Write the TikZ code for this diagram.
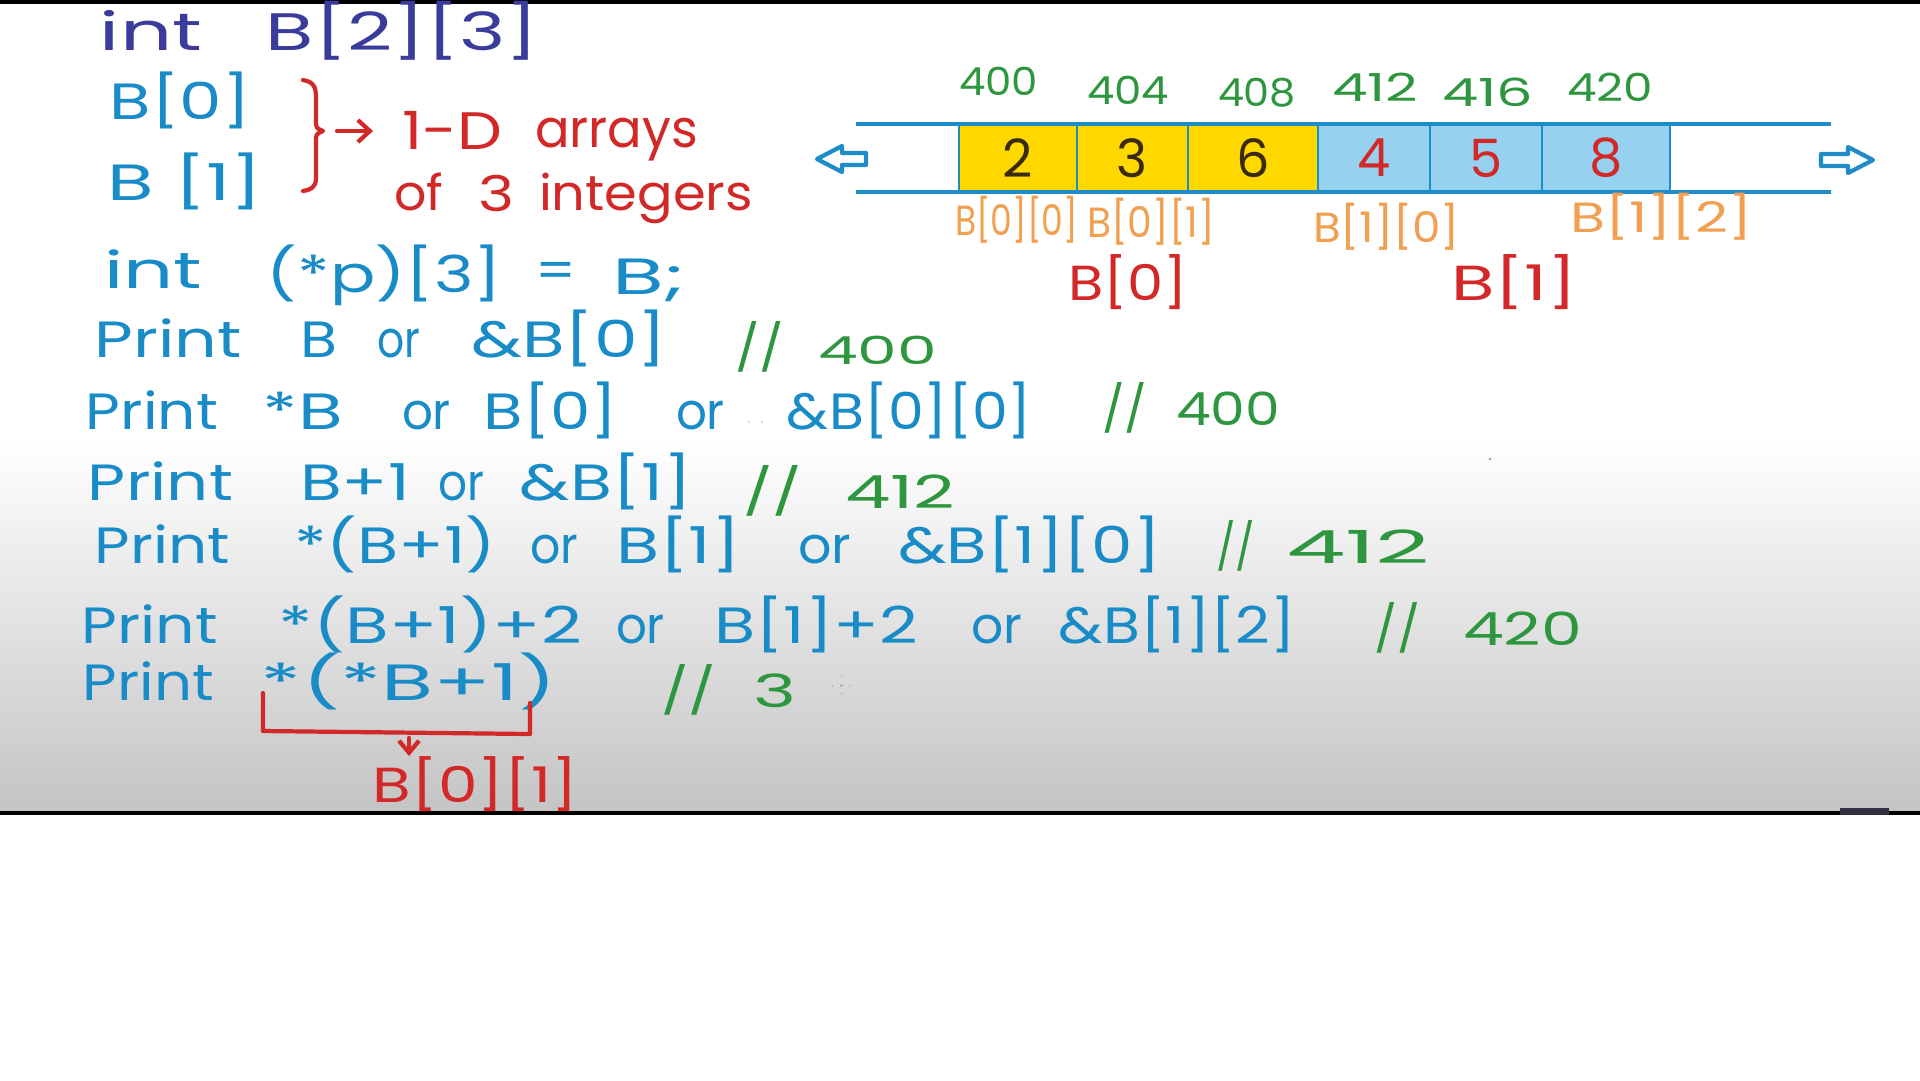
\documentclass[tikz,border=0pt]{standalone}
\usepackage{fontspec}
\setmainfont{Poppins}
\usepackage{graphicx}
\usetikzlibrary{arrows.meta}
\definecolor{cblue}{HTML}{198CC8}
\definecolor{cdark}{HTML}{3A3C9C}
\definecolor{cred}{HTML}{D22828}
\definecolor{cgreen}{HTML}{2E963E}
\definecolor{corange}{HTML}{F0A050}
\definecolor{cyel}{HTML}{FFD800}
\definecolor{clblue}{HTML}{96D2F0}
\definecolor{cline}{HTML}{1E8CC8}
\definecolor{cdigit}{HTML}{3A2A10}
\definecolor{cgray}{HTML}{C4C4C4}
\definecolor{cbar}{HTML}{303040}
\newcommand\W[2]{\resizebox{\dimexpr 0.1mm*(#1)\relax}{\height}{#2}}
\newcommand\seg[6]{\node[#1] (#2) at ({(#3+#4)/2},#5) {\W{#4-#3}{#6}};}
\tikzset{
  hw/.style={inner sep=0pt, outer sep=0pt, anchor=base},
  fs/.style={font=\fontsize{#1}{#1}\selectfont},
  hd/.style={hw, text=cdark, fs=15},
  bl/.style={hw, text=cblue, fs=14.5},
  rd/.style={hw, text=cred, fs=15},
  rds/.style={hw, text=cred, fs=14},
  gr/.style={hw, text=cgreen, fs=13},
  grs/.style={hw, text=cgreen, fs=11},
  orl/.style={hw, text=corange, fs=12},
  rdl/.style={hw, text=cred, fs=14},
  cell/.style={draw=cline, line width=0.8pt, minimum height=6.8mm, inner sep=0pt, font=\fontsize{15}{15}\selectfont},
  pen/.style={line width=1.2pt, line cap=round, line join=round},
  hollow/.style={draw=cline, fill=white, line width=1.2pt, line join=round},
}
\begin{document}
\begin{tikzpicture}[x=0.1mm,y=-0.1mm]
\useasboundingbox (0,0) rectangle (1920,1080);
% background
\fill[white] (0,0) rectangle (1920,1080);
\shade[top color=white, bottom color=cgray] (0,440) rectangle (1920,812);
\fill[black] (0,0) rectangle (1920,4);
\fill[black] (0,811) rectangle (1920,815);
\fill[cbar] (1840,808) rectangle (1889,815);

% header
\seg{hd}{h1}{100}{202}{50}{int}
\seg{hd}{h2}{266}{539}{50}{B[2][3]}

% B[0], B[1] and brace
\seg{bl}{b0}{110}{251}{119}{B[0]}
\seg{bl}{b1}{108}{263}{200}{B [1]}
\coordinate (bt) at (323,131);
\draw[cred, pen] (303,80) .. controls (316,82) and (316,90) .. (316,100) -- (316,120)
  .. controls (316,128) .. (bt) .. controls (316,134) .. (316,142) -- (316,178)
  .. controls (316,188) and (310,190) .. (303,191);
\seg{rd}{oneD}{402}{502}{149}{1-D}
\seg{rd}{arr}{535}{698}{147}{arrays}
\seg{rds}{of}{394}{443}{210}{of}
\seg{rds}{three}{478}{514}{211}{3}
\seg{rds}{integ}{539}{753}{210}{integers}
\draw[cred, pen, -{Straight Barb[length=1.2mm,width=2.2mm]}, shorten <=1.4mm, shorten >=2.9mm] (bt) -- (bt -| oneD.west);

% declaration
\seg{bl}{d1}{104}{202}{288}{int}
\seg{bl}{d2}{267}{502}{292}{(*p)[3]}
\seg{bl}{d3}{535}{576}{288}{=}
\seg{bl}{d4}{612}{686}{294}{B;}

% line 1
\seg{bl}{p1a}{95}{242}{357}{Print}
\seg{bl}{p1b}{300}{337}{357}{B}
\seg{bl}{p1c}{377}{420}{357}{or}
\seg{bl}{p1d}{471}{667}{357}{\&B[0]}
\seg{gr}{p1e}{735}{784}{364}{//}
\seg{grs}{p1f}{818}{937}{364}{400}

% line 2
\seg{bl}{p2a}{86}{218}{429}{Print}
\seg{bl}{p2b}{263}{343}{429}{*B}
\seg{bl}{p2c}{402}{451}{429}{or}
\seg{bl}{p2d}{484}{618}{429}{B[0]}
\seg{bl}{p2e}{676}{725}{429}{or}
\seg{bl}{p2f}{787}{1032}{429}{\&B[0][0]}
\seg{gr}{p2g}{1102}{1147}{425}{//}
\seg{gr}{p2h}{1176}{1280}{425}{400}

% line 3
\seg{bl}{p3a}{88}{233}{500}{Print}
\seg{bl}{p3b}{300}{410}{500}{B+1}
\seg{bl}{p3c}{438}{484}{500}{or}
\seg{bl}{p3d}{520}{692}{500}{\&B[1]}
\seg{gr}{p3e}{743}{802}{508}{//}
\seg{gr}{p3f}{845}{955}{508}{412}

% line 4
\seg{bl}{p4a}{95}{230}{563}{Print}
\seg{bl}{p4b}{294}{496}{563}{*(B+1)}
\seg{bl}{p4c}{530}{578}{563}{or}
\seg{bl}{p4d}{616}{741}{563}{B[1]}
\seg{bl}{p4e}{798}{851}{563}{or}
\seg{bl}{p4f}{898}{1161}{563}{\&B[1][0]}
\seg{gr}{p4g}{1216}{1255}{563}{//}
\seg{gr}{p4h}{1286}{1430}{563}{412}

% line 5
\seg{bl}{p5a}{82}{218}{643}{Print}
\seg{bl}{p5b}{279}{582}{643}{*(B+1)+2}
\seg{bl}{p5c}{616}{665}{643}{or}
\seg{bl}{p5d}{714}{918}{643}{B[1]+2}
\seg{bl}{p5e}{971}{1022}{643}{or}
\seg{bl}{p5f}{1059}{1296}{643}{\&B[1][2]}
\seg{gr}{p5g}{1374}{1420}{645}{//}
\seg{gr}{p5h}{1463}{1582}{645}{420}

% line 6
\seg{bl}{p6a}{83}{214}{700}{Print}
\seg{bl}{p6b}{261}{557}{700}{*(*B+1)}
\seg{gr}{p6c}{661}{716}{707}{//}
\seg{gr}{p6d}{753}{796}{707}{3}
\draw[cred, pen] (263,693) -- (263,731) -- (530,734) -- (530,703);
\seg{rdl}{b01}{373}{578}{802}{B[0][1]}
\coordinate (ar) at (409,738);
\draw[cred, pen, -{Straight Barb[length=1.2mm,width=2mm]}] (ar) -- (ar |- b01.north);

% faint marks
\draw[gray!60, line width=0.4pt, dotted] (832,686) -- (852,686) (842,676) -- (842,696);
\fill[gray!70] (1490,459) circle (1.5);
\fill[gray!40] (749,422) circle (1.2) (762,422) circle (1.2);

% memory strip
\node[cell, fill=cyel, minimum width=11.8mm, text=cdigit] (c1) at (1018,158) {2};
\node[cell, fill=cyel, minimum width=11.1mm, text=cdigit] (c2) at (1132.5,158) {3};
\node[cell, fill=cyel, minimum width=13.0mm, text=cdigit] (c3) at (1253,158) {6};
\node[cell, fill=clblue, minimum width=11.2mm, text=cred] (c4) at (1374,158) {4};
\node[cell, fill=clblue, minimum width=11.2mm, text=cred] (c5) at (1486,158) {5};
\node[cell, fill=clblue, minimum width=12.8mm, text=cred] (c6) at (1606,158) {8};
\draw[cline, line width=1.2pt] (856,124) -- (1831,124);
\draw[cline, line width=1.2pt] (856,192) -- (1831,192);
\draw[hollow] (817,159) -- (842,146) -- (842,153) -- (866,153) -- (866,165) -- (842,165) -- (842,172) -- cycle;
\draw[hollow] (1873,160) -- (1848,147) -- (1848,154) -- (1821,154) -- (1821,166) -- (1848,166) -- (1848,173) -- cycle;

% addresses
\seg{grs}{a1}{959}{1038}{95}{400}
\seg{grs}{a2}{1087}{1169}{104}{404}
\seg{grs}{a3}{1218}{1296}{106}{408}
\seg{grs}{a4}{1332}{1418}{101}{412}
\seg{grs}{a5}{1442}{1533}{106}{416}
\seg{grs}{a6}{1567}{1653}{101}{420}

% element labels
\seg{orl}{e1}{955}{1078}{235}{B[0][0]}
\seg{orl}{e2}{1087}{1215}{237}{B[0][1]}
\seg{orl}{e3}{1313}{1460}{242}{B[1][0]}
\seg{orl}{e4}{1570}{1753}{232}{B[1][2]}
\seg{rdl}{r0}{1068}{1188}{300}{B[0]}
\seg{rdl}{r1}{1451}{1577}{300}{B[1]}
\end{tikzpicture}
\end{document}
